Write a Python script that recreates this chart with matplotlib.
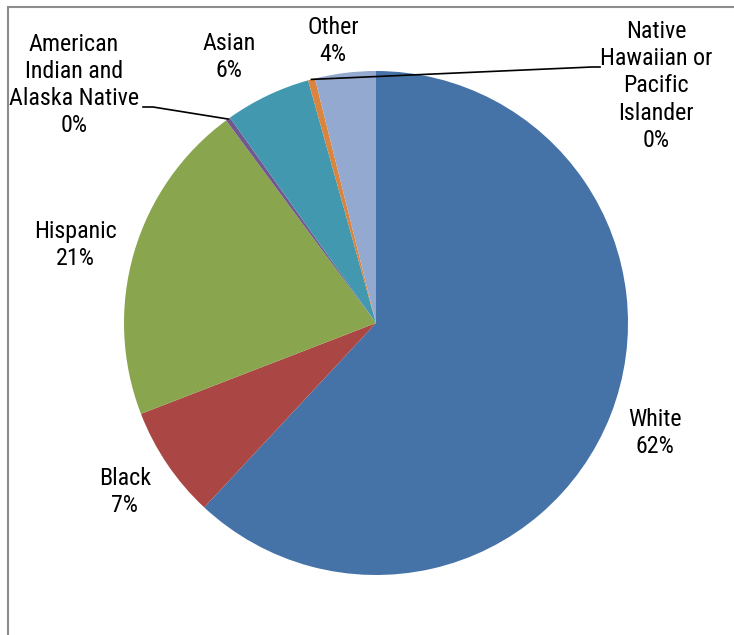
import numpy as np
import matplotlib.pyplot as plt
from matplotlib.patches import Rectangle

OUTPUT = "out.png"

categories = ["White", "Black", "Hispanic", "American\nIndian and\nAlaska Native",
              "Asian", "Native\nHawaiian or\nPacific\nIslander", "Other"]
shares = [62.0, 7.2, 20.75, 0.3, 5.5, 0.45, 3.9]
pct_labels = ["62%", "7%", "21%", "0%", "6%", "0%", "4%"]
colors = ["#4572A7", "#AA4643", "#89A54E", "#71588F", "#4198AF", "#DB843D", "#93A9CF"]

W, H = 734, 635
fig = plt.figure(figsize=(W / 100, H / 100), dpi=100)
ax = fig.add_axes([0, 0, 1, 1])
ax.set_aspect("equal")
ax.axis("off")

cx, cy, r = 376, H - 323, 252
wedges, _ = ax.pie(shares, colors=colors, startangle=90, counterclock=False,
                   center=(cx, cy), radius=r, wedgeprops=dict(linewidth=0))
ax.set_xlim(0, W)
ax.set_ylim(0, H)

# chart frame (cropped on right and bottom)
ax.add_patch(Rectangle((8, -20), 800, H - 7 + 20, fill=False,
                       edgecolor="#8c8c8c", linewidth=1.5))

font = ["Roboto Condensed", "Liberation Sans", "DejaVu Sans"]
label_pos = {
    "White": (655, 433),
    "Black": (125, 492),
    "Hispanic": (75, 245),
    "American\nIndian and\nAlaska Native": (74, 85),
    "Asian": (229, 57),
    "Native\nHawaiian or\nPacific\nIslander": (656, 86),
    "Other": (333, 41),
}
for name, pct in zip(categories, pct_labels):
    x, y = label_pos[name]
    ax.text(x, H - y, f"{name}\n{pct}", ha="center", va="center",
            fontsize=17.3, family=font, linespacing=1.24, color="#000000")

# leader lines for the thin slices
def wedge_tip(w, frac=0.5):
    ang = np.deg2rad(w.theta1 + (w.theta2 - w.theta1) * frac)
    return cx + r * np.cos(ang), cy + r * np.sin(ang)

tx, ty = wedge_tip(wedges[3])
ax.plot([143, 153, tx], [H - 107, H - 107, ty], color="black", linewidth=1.2)
tx, ty = wedge_tip(wedges[5])
ax.plot([tx, 592, 600], [ty, H - 67, H - 67], color="black", linewidth=1.2)

plt.savefig(OUTPUT, dpi=100)
